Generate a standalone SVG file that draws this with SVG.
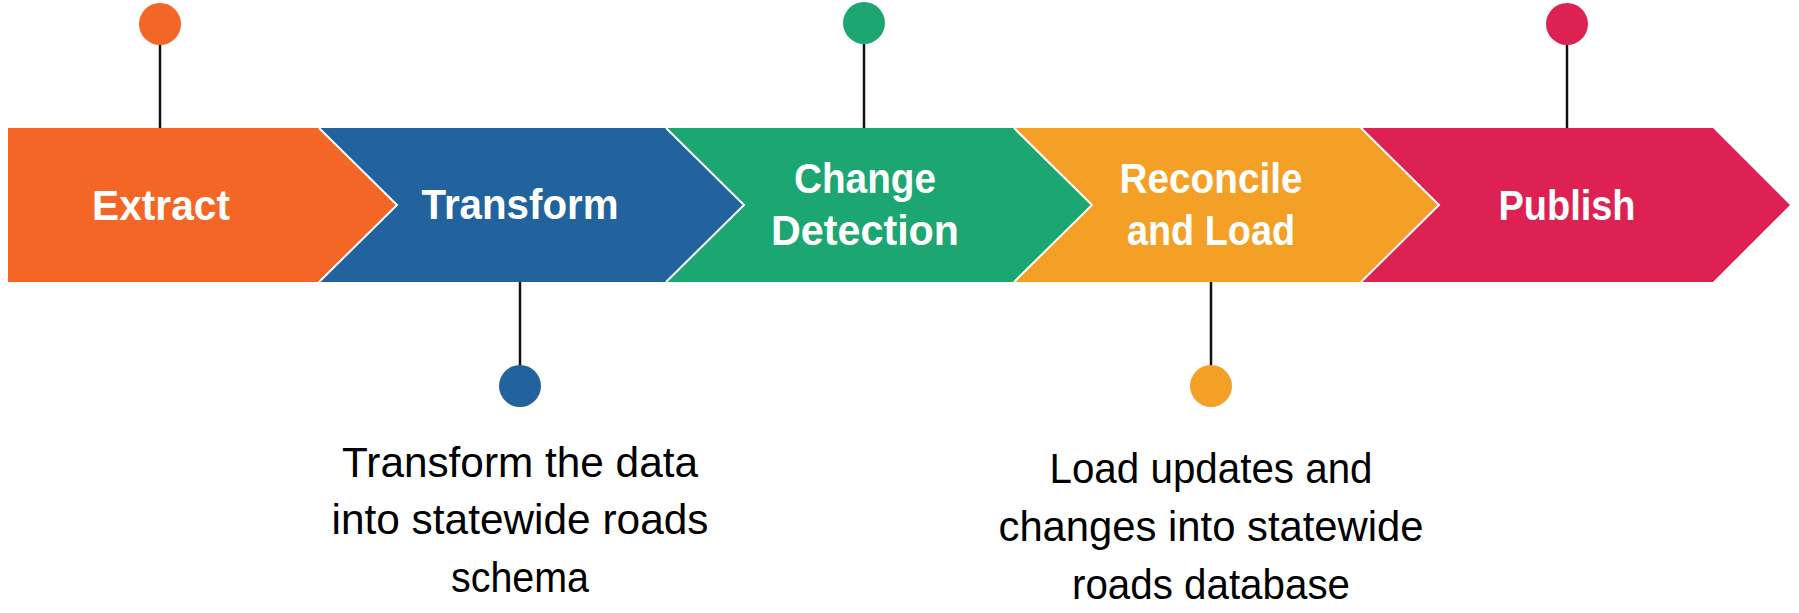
<svg xmlns="http://www.w3.org/2000/svg" width="1799" height="613" viewBox="0 0 1799 613">
<style>
.lbl{font-family:"Liberation Sans",Arial,sans-serif;font-weight:bold;font-size:42px;fill:#fff;text-anchor:middle}
.desc{font-family:"Liberation Sans",Arial,sans-serif;font-size:42px;fill:#000;text-anchor:middle}
.sep{fill:none;stroke:#fff;stroke-width:2}
.conn{stroke:#111;stroke-width:2.5}
</style>
<rect width="1799" height="613" fill="#fff"/>
<g id="node-extract">
<polygon points="8,128 319,128 397,205 319,282 8,282" fill="#F36625"/>
<text class="lbl" x="161" y="220" textLength="138" lengthAdjust="spacingAndGlyphs">Extract</text>
</g>
<g id="node-transform">
<polygon points="319,128 666,128 744,205 666,282 319,282 397,205" fill="#22639E"/>
<text class="lbl" x="520" y="219" textLength="197" lengthAdjust="spacingAndGlyphs">Transform</text>
</g>
<g id="node-change">
<polygon points="666,128 1014,128 1092,205 1014,282 666,282 744,205" fill="#1BA672"/>
<text class="lbl" x="865" y="193" textLength="142" lengthAdjust="spacingAndGlyphs">Change</text>
<text class="lbl" x="865" y="245" textLength="188" lengthAdjust="spacingAndGlyphs">Detection</text>
</g>
<g id="node-reconcile">
<polygon points="1014,128 1361,128 1439,205 1361,282 1014,282 1092,205" fill="#F4A027"/>
<text class="lbl" x="1211" y="193" textLength="183" lengthAdjust="spacingAndGlyphs">Reconcile</text>
<text class="lbl" x="1211" y="245" textLength="168" lengthAdjust="spacingAndGlyphs">and Load</text>
</g>
<g id="node-publish">
<polygon points="1361,128 1713,128 1790,205 1713,282 1361,282 1439,205" fill="#DD2153"/>
<text class="lbl" x="1567" y="220" textLength="137" lengthAdjust="spacingAndGlyphs">Publish</text>
</g>
<g id="separators">
<polyline class="sep" points="319,128 397,205 319,282"/>
<polyline class="sep" points="666,128 744,205 666,282"/>
<polyline class="sep" points="1014,128 1092,205 1014,282"/>
<polyline class="sep" points="1361,128 1439,205 1361,282"/>
</g>
<g id="connectors">
<line class="conn" x1="160" y1="44" x2="160" y2="128"/>
<line class="conn" x1="520" y1="282" x2="520" y2="366"/>
<line class="conn" x1="864" y1="44" x2="864" y2="128"/>
<line class="conn" x1="1211" y1="282" x2="1211" y2="366"/>
<line class="conn" x1="1567" y1="44" x2="1567" y2="128"/>
</g>
<g id="pin-extract"><circle cx="160" cy="24" r="21" fill="#F36625"/></g>
<g id="pin-transform"><circle cx="520" cy="386" r="21" fill="#22639E"/></g>
<g id="pin-change"><circle cx="864" cy="23" r="21" fill="#1BA672"/></g>
<g id="pin-reconcile"><circle cx="1211" cy="386" r="21" fill="#F4A027"/></g>
<g id="pin-publish"><circle cx="1567" cy="24" r="21" fill="#DD2153"/></g>
<g id="desc-transform">
<text class="desc" x="520" y="477" textLength="356" lengthAdjust="spacingAndGlyphs">Transform the data</text>
<text class="desc" x="520" y="534" textLength="377" lengthAdjust="spacingAndGlyphs">into statewide roads</text>
<text class="desc" x="520" y="592" textLength="138" lengthAdjust="spacingAndGlyphs">schema</text>
</g>
<g id="desc-reconcile">
<text class="desc" x="1211" y="483" textLength="323" lengthAdjust="spacingAndGlyphs">Load updates and</text>
<text class="desc" x="1211" y="541" textLength="425" lengthAdjust="spacingAndGlyphs">changes into statewide</text>
<text class="desc" x="1211" y="599" textLength="278" lengthAdjust="spacingAndGlyphs">roads database</text>
</g>
</svg>
